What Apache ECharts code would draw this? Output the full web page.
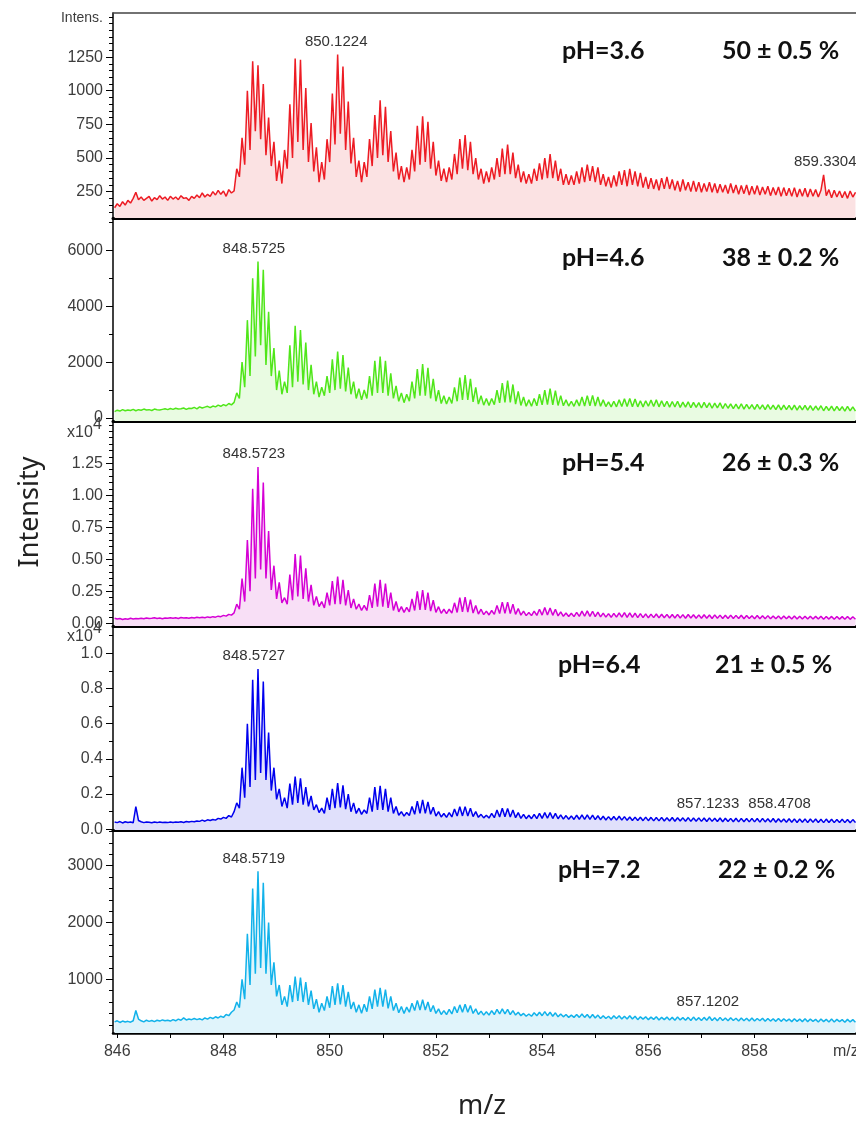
<!DOCTYPE html>
<html><head><meta charset="utf-8">
<script src="https://cdn.jsdelivr.net/npm/echarts@6/dist/echarts.min.js"></script>
<style>html,body{margin:0;padding:0;background:#fff}#c{width:856px;height:1123px}</style>
</head><body><div id="c"></div>
<script>
// m/z sampling grid: first point and spacing of the values below
const MZ_START = 845.95, MZ_STEP = 0.05;

// pH 3.6 spectrum (intensity)
const ph36 = [
130,160,140,175,150,185,165,200,245,190,
210,185,200,215,180,205,190,220,195,210,
185,215,195,210,190,220,200,205,185,215,
200,225,205,240,210,230,215,250,225,260,
230,255,215,265,240,255,420,360,650,450,
1000,560,1220,700,1190,640,1050,520,800,440,
620,330,480,310,560,420,900,500,1240,620,
1230,560,1020,470,760,400,580,320,470,340,
640,470,980,600,1270,680,1180,560,920,460,
650,360,480,320,470,360,640,440,820,500,
930,520,880,470,700,400,540,340,440,320,
430,340,560,400,740,450,810,470,770,420,
620,370,480,330,420,320,430,340,530,380,
640,420,670,410,620,380,500,340,420,310,
400,320,430,340,500,360,570,380,600,380,
540,350,450,320,400,310,380,310,420,330,
460,340,500,350,530,350,480,330,420,300,
380,300,370,300,400,310,430,320,450,330,
440,320,430,300,380,290,360,280,370,290,
400,300,410,290,420,300,400,290,390,280,
360,270,350,270,340,260,350,270,360,270,
340,260,330,250,340,260,320,250,330,250,
320,245,310,250,320,245,310,240,305,245,
300,235,310,240,300,230,295,235,300,225,
290,230,295,225,285,230,290,220,280,225,
285,215,280,220,275,215,280,210,270,215,
275,210,270,215,265,210,260,375,220,265,
205,260,210,255,205,250,200,255,210,245];

// pH 4.6 spectrum
const ph46 = [
230,280,250,300,260,290,270,310,260,300,
280,320,290,300,270,320,300,290,310,330,
300,340,310,350,320,330,360,310,350,340,
380,330,400,360,390,420,370,430,400,460,
420,480,440,520,470,560,900,700,2000,1100,
3500,1500,5000,2200,5600,2600,5300,1900,3800,1500,
2500,1000,1700,850,1300,900,2600,1100,3300,1300,
3150,1200,2700,1000,1900,850,1300,750,1100,800,
1500,900,2100,1000,2380,1050,2250,950,1800,850,
1300,700,1050,650,1000,700,1500,800,2050,900,
2200,900,2050,800,1600,700,1150,600,900,550,
850,600,1300,700,1750,800,1930,800,1800,700,
1400,600,1000,520,800,500,750,520,1100,600,
1450,650,1540,650,1400,580,1100,500,800,460,
700,450,700,480,1000,540,1250,560,1340,560,
1200,500,950,450,750,420,650,420,700,440,
850,470,1000,480,1050,470,980,450,800,440,
650,430,600,420,650,430,750,430,800,440,
810,430,750,420,650,410,580,400,600,400,
650,410,690,410,700,400,680,400,620,400,
620,420,640,410,650,400,620,410,600,390,
590,400,600,380,570,390,580,370,560,380,
550,360,560,370,540,350,530,360,540,340,
520,350,510,340,500,330,510,320,490,330,
480,310,490,320,470,300,480,310,460,300,
470,290,460,300,450,290,460,280,440,290,
450,280,440,270,430,280,440,260,420,270,
430,260,420,270,410,250,420,260,400,250];

// pH 5.4 spectrum
const ph54 = [
400,330,380,300,360,320,390,340,370,350,
400,350,420,370,390,430,380,410,360,420,
390,440,400,430,380,450,410,440,400,460,
420,470,440,480,430,500,460,520,480,560,
520,620,560,700,640,820,1500,1100,3500,1700,
6500,2500,10500,3500,12200,4200,11000,3500,7200,2600,
4500,1900,3200,1600,2000,1500,3800,1800,5400,2100,
5300,1900,4300,1700,3000,1400,2100,1300,1700,1200,
2400,1400,3300,1500,3650,1500,3400,1400,2600,1200,
1900,1100,1500,1000,1400,1000,2200,1200,3100,1300,
3400,1300,3100,1200,2400,1000,1700,900,1300,850,
1250,900,1900,1000,2500,1050,2600,1050,2400,950,
1800,850,1300,780,1100,750,1100,800,1600,850,
2000,900,2050,880,1850,800,1400,720,1100,680,
950,650,1000,700,1400,760,1650,780,1660,760,
1500,700,1150,640,950,600,850,600,950,620,
1100,640,1230,650,1200,620,1100,580,900,550,
800,530,780,520,850,540,950,550,970,540,
940,520,880,500,800,480,760,470,780,480,
820,480,830,470,820,460,800,450,760,440,
740,430,720,440,730,420,710,430,700,420,
690,410,700,420,680,400,690,410,670,400,
660,390,670,400,650,380,660,390,640,380,
630,370,640,380,620,370,630,360,610,370,
600,360,610,350,590,360,600,350,580,350,
580,340,570,350,560,340,570,330,550,340,
560,330,550,340,540,330,550,320,530,330,
540,320,530,330,520,320,530,310,510,320];

// pH 6.4 spectrum
const ph64 = [
420,380,440,360,430,390,410,370,1290,500,
430,380,420,400,370,410,380,420,390,400,
380,420,390,410,400,430,390,440,410,450,
430,470,450,520,460,540,500,560,520,620,
580,680,620,780,700,1000,1500,1200,3500,1800,
6000,2400,8500,2800,9100,3200,8400,2800,5500,2200,
3500,1700,2300,1300,1800,1200,2600,1400,3000,1500,
2900,1400,2400,1300,1900,1100,1400,950,1200,900,
1800,1100,2300,1200,2630,1250,2500,1150,2000,1000,
1500,900,1200,850,1100,900,1800,1000,2400,1100,
2470,1100,2300,1000,1800,900,1300,800,1000,750,
950,780,1300,850,1600,900,1670,900,1550,850,
1250,750,1000,700,900,680,950,700,1150,750,
1280,760,1290,750,1200,720,1000,680,850,650,
800,640,900,660,1100,700,1200,710,1180,700,
1100,660,950,620,850,600,800,600,850,610,
900,620,950,630,950,610,900,600,820,580,
780,570,760,560,800,570,820,570,820,560,
800,550,770,540,740,530,720,530,730,520,
740,520,720,510,700,500,690,500,680,490,
690,490,680,480,670,480,680,470,660,470,
670,460,660,470,650,460,660,450,640,460,
650,450,640,440,650,450,630,440,640,430,
630,440,620,430,630,420,620,430,610,420,
620,420,610,410,620,420,600,410,610,400,
600,410,590,400,600,400,590,390,580,400,
590,390,580,400,580,390,570,380,580,390,
570,380,560,390,570,380,560,370,550,380];

// pH 7.2 spectrum
const ph72 = [
250,270,240,265,250,260,245,270,450,300,
270,250,280,260,275,255,280,265,285,270,
280,265,290,270,300,280,320,285,300,290,
310,290,305,285,320,300,330,310,340,320,
350,330,380,360,420,460,600,500,1000,650,
1800,900,2600,1100,2900,1200,2700,1100,2000,900,
1300,700,900,550,700,520,900,600,1050,620,
1030,600,950,550,800,480,650,420,580,450,
700,500,880,550,930,560,900,520,780,480,
600,420,550,400,560,430,700,480,820,520,
850,520,820,490,700,450,580,410,520,400,
510,420,580,450,630,460,640,460,600,430,
540,400,480,380,450,380,470,390,520,410,
550,420,560,420,540,400,480,380,440,370,
430,370,450,380,470,390,480,390,470,380,
450,370,420,360,400,350,390,350,410,360,
420,360,430,360,420,350,410,340,390,340,
380,330,370,330,380,330,390,330,380,320,
380,320,370,310,360,310,350,300,360,310,
360,300,350,300,360,300,350,290,340,300,
340,290,335,295,340,285,330,290,335,285,
330,280,335,285,325,280,330,275,335,280,
325,275,330,280,340,275,325,270,330,275,
320,270,325,275,315,265,320,270,315,265,
320,265,310,270,315,260,310,265,305,260,
310,260,305,265,300,255,305,260,300,255,
305,255,300,260,295,250,300,255,295,250,
300,250,295,255,290,245,295,250,290,245];

// peak annotations: [label m/z, intensity at label]
const peaks36 = [[850.1224, 1270], [859.3304, 375]];
const peaks46 = [[848.5725, 5600]];
const peaks54 = [[848.5723, 12200]];
const peaks64 = [[848.5727, 9100], [857.1233, 700], [858.4708, 700]];
const peaks72 = [[848.5719, 2900], [857.1202, 380]];

// axis ticks
const xTicks = [846,847,848,849,850,851,852,853,854,855,856,857,858,859];
const xLabels = [846,848,850,852,854,856,858];
const yLabels36 = [250,500,750,1000,1250];
const yLabels46 = [0,2000,4000,6000];
const yLabels54 = [0,2500,5000,7500,10000,12500];
const yLabels64 = [0,2000,4000,6000,8000,10000];
const yLabels72 = [1000,2000,3000];

const phTexts = ['pH=3.6','pH=4.6','pH=5.4','pH=6.4','pH=7.2'];
const pctTexts = ['50 ± 0.5 %','38 ± 0.2 %','26 ± 0.3 %','21 ± 0.5 %','22 ± 0.2 %'];

function range(a, b, s) { const r = []; for (let v = a; v <= b + 1e-9; v += s) r.push(Math.round(v * 1000) / 1000); return r; }

const X_MIN = 845.92, X_MAX = 859.91;
const TICK_FONT = 'Liberation Sans';
const LABEL_COLOR = '#3c3c3c';

const panels = [
  {data: ph36, color:'#ed1c24', fill:'#fbe2e3', min:54, max:1578, labels:yLabels36, minor:range(100,1550,50), fmt:v=>String(v), top:13, height:205, peaks:peaks36, phX:562, pctX:722, textY:51},
  {data: ph46, color:'#50e61a', fill:'#e9fbe2', min:-106, max:7153, labels:yLabels46, minor:range(0,7000,1000), fmt:v=>String(v), top:218, height:203, peaks:peaks46, phX:562, pctX:722, textY:258},
  {data: ph54, color:'#d500d5', fill:'#f8dff6', min:-210, max:15800, labels:yLabels54, minor:range(0,15500,500), fmt:v=>(v/10000).toFixed(2), top:421, height:205, peaks:peaks54, phX:562, pctX:722, textY:463},
  {data: ph64, color:'#0000ee', fill:'#e0e0fb', min:-40, max:11550, labels:yLabels64, minor:range(0,11000,1000), fmt:v=>(v/10000).toFixed(1), top:626, height:204, peaks:peaks64, phX:558, pctX:715, textY:665},
  {data: ph72, color:'#12b2ea', fill:'#e0f4fb', min:55, max:3628, labels:yLabels72, minor:range(200,3600,200), fmt:v=>String(v), top:830, height:203, peaks:peaks72, phX:558, pctX:718, textY:870}
];

const grid = [], xAxis = [], yAxis = [], series = [], graphic = [];
panels.forEach((p, k) => {
  grid.push({left:113, right:0, top:p.top, height:p.height, containLabel:false});
  const last = k === panels.length - 1;
  xAxis.push({
    type:'value', gridIndex:k, min:X_MIN, max:X_MAX, position:'bottom',
    axisLine:{show:true, onZero:false, lineStyle:{color:'#000', width: last ? 2.5 : 3}},
    axisTick: last ? {show:true, customValues:xTicks, length:5, lineStyle:{color:'#000', width:1}} : {show:false},
    axisLabel: last ? {show:true, customValues:xLabels, margin:11, fontSize:16, fontFamily:TICK_FONT, color:LABEL_COLOR} : {show:false},
    splitLine:{show:false}
  });
  yAxis.push({
    type:'value', gridIndex:k, min:p.min, max:p.max, position:'left',
    axisLine:{show:true, onZero:false, lineStyle:{color:'#000', width:1.5}},
    axisTick:{show:true, customValues:p.labels, length:7, lineStyle:{color:'#000', width:1}},
    axisLabel:{show:true, customValues:p.labels, formatter:p.fmt, margin:10, fontSize:16, fontFamily:TICK_FONT, color:LABEL_COLOR},
    splitLine:{show:false}
  });
  yAxis.push({
    type:'value', gridIndex:k, min:p.min, max:p.max, position:'left',
    axisLine:{show:false, onZero:false},
    axisTick:{show:true, customValues:p.minor, length:4, lineStyle:{color:'#000', width:1}},
    axisLabel:{show:false}, splitLine:{show:false}
  });
  series.push({
    type:'line', xAxisIndex:k, yAxisIndex:2*k, symbol:'none', showSymbol:false, sampling:null,
    data: p.data.map((v, i) => [Math.round((MZ_START + i * MZ_STEP) * 100) / 100, v]),
    lineStyle:{color:p.color, width:1.5},
    areaStyle:{color:p.fill, origin:'start', opacity:1},
    clip:true, z:2,
    markPoint:{
      symbol:'circle', symbolSize:1, itemStyle:{color:'rgba(0,0,0,0)'},
      label:{show:true, position:'top', distance:5, color:'#333', fontSize:15, fontFamily:TICK_FONT, formatter:q=>q.name},
      data: p.peaks.map(pk => ({name: pk[0].toFixed(4), coord:[pk[0], pk[1]]}))
    }
  });
  graphic.push({type:'text', x:p.phX, y:p.textY, style:{text:phTexts[k], fontSize:25, fontWeight:'bold', fontFamily:'Lato', fill:'#111', verticalAlign:'middle', align:'left'}});
  graphic.push({type:'text', x:p.pctX, y:p.textY, style:{text:pctTexts[k], fontSize:25, fontWeight:'bold', fontFamily:'Lato', fill:'#111', verticalAlign:'middle', align:'left'}});
});
// top frame line of the first panel
xAxis.push({type:'value', gridIndex:0, min:X_MIN, max:X_MAX, position:'top',
  axisLine:{show:true, onZero:false, lineStyle:{color:'#444', width:1.5}}, axisTick:{show:false}, axisLabel:{show:false}, splitLine:{show:false}});

graphic.push({type:'text', x:103, y:18, style:{text:'Intens.', fontSize:14, fontFamily:TICK_FONT, fill:LABEL_COLOR, align:'right', verticalAlign:'middle'}});
graphic.push({type:'text', x:67, y:433, style:{text:'x10', fontSize:16, fontFamily:TICK_FONT, fill:LABEL_COLOR, align:'left', verticalAlign:'middle'}});
graphic.push({type:'text', x:93, y:425, style:{text:'4', fontSize:16, fontFamily:TICK_FONT, fill:LABEL_COLOR, align:'left', verticalAlign:'middle'}});
graphic.push({type:'text', x:67, y:637, style:{text:'x10', fontSize:16, fontFamily:TICK_FONT, fill:LABEL_COLOR, align:'left', verticalAlign:'middle'}});
graphic.push({type:'text', x:93, y:629, style:{text:'4', fontSize:16, fontFamily:TICK_FONT, fill:LABEL_COLOR, align:'left', verticalAlign:'middle'}});
graphic.push({type:'text', x:833, y:1052, style:{text:'m/z', fontSize:16, fontFamily:TICK_FONT, fill:LABEL_COLOR, align:'left', verticalAlign:'middle'}});
graphic.push({type:'text', x:30, y:512, rotation:Math.PI/2, style:{text:'Intensity', fontSize:27, fontFamily:'Noto Sans', fill:'#222', align:'center', verticalAlign:'middle'}});
graphic.push({type:'text', x:482, y:1106, style:{text:'m/z', fontSize:27, fontFamily:'Noto Sans', fill:'#222', align:'center', verticalAlign:'middle'}});

const chart = echarts.init(document.getElementById('c'), null, {renderer:'canvas'});
chart.setOption({animation:false, backgroundColor:'#fff', grid, xAxis, yAxis, series, graphic});
</script></body></html>
